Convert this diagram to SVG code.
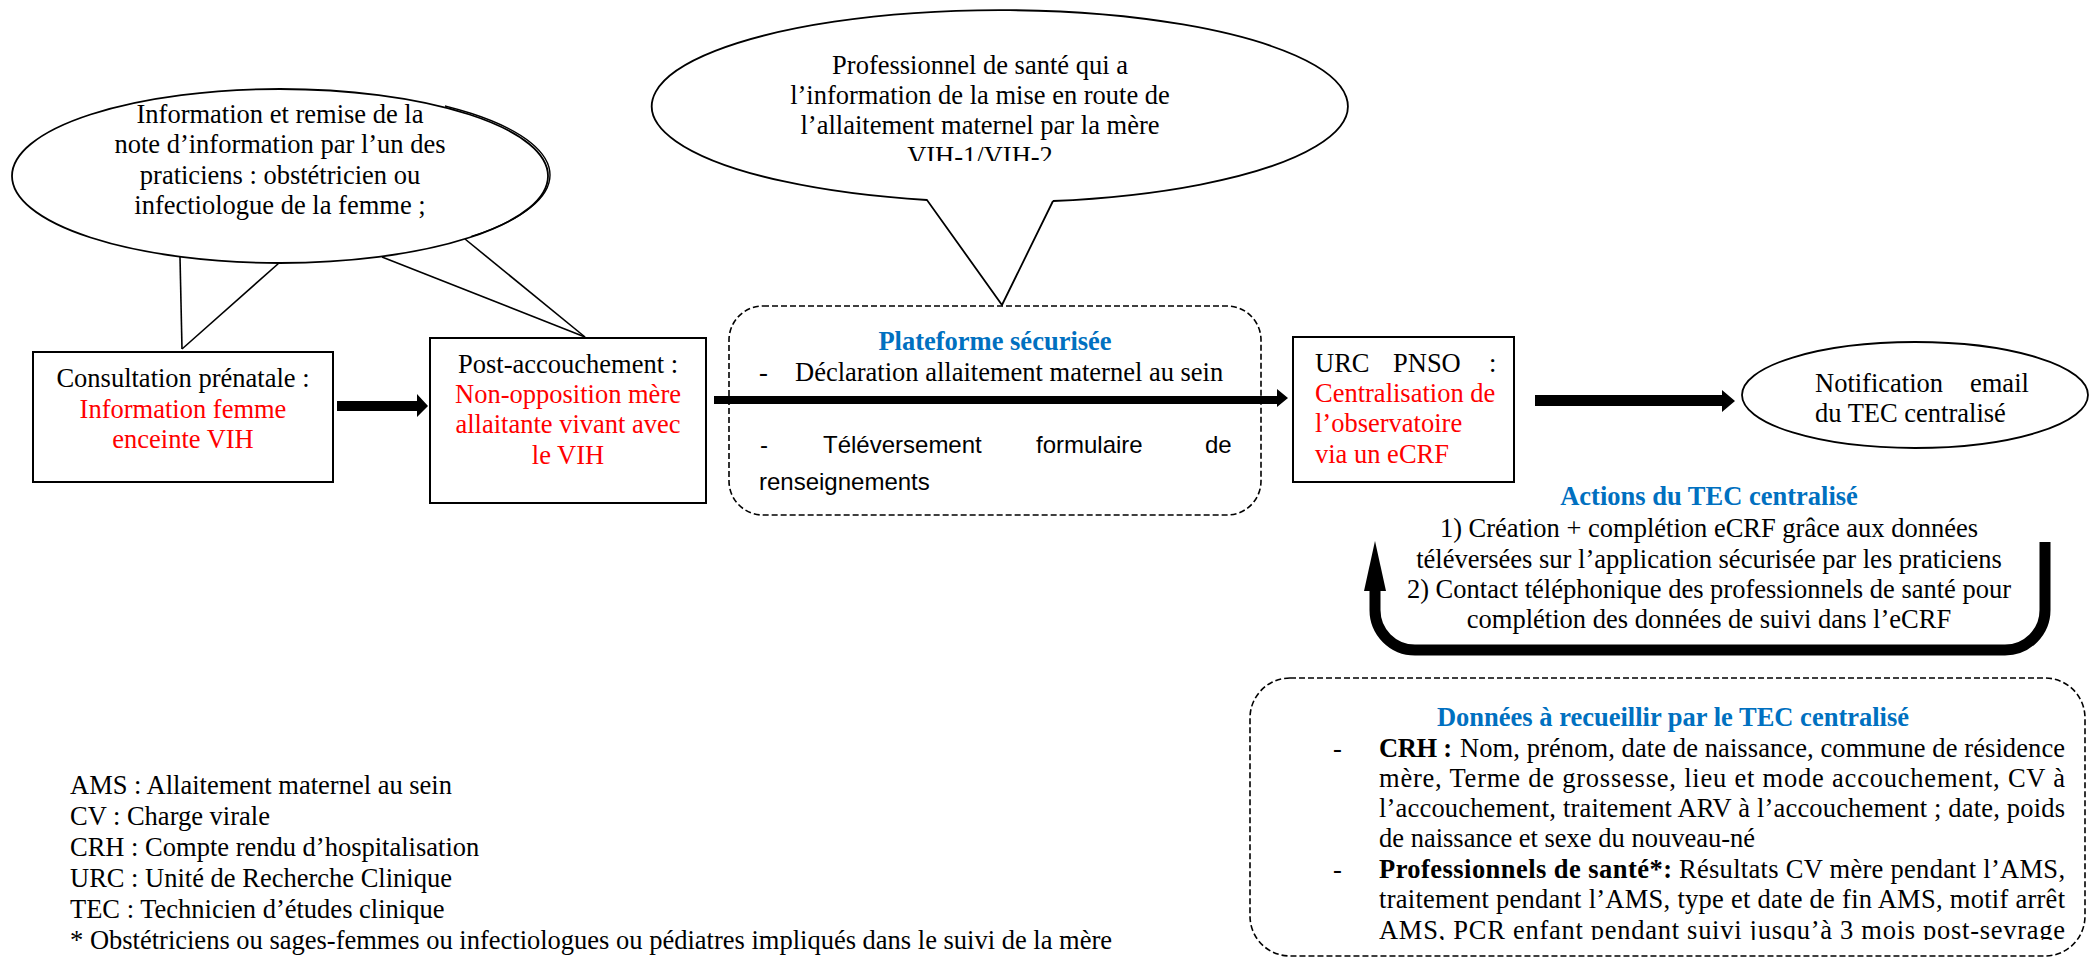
<svg xmlns="http://www.w3.org/2000/svg" width="2092" height="959" viewBox="0 0 2092 959">
<style>
.t{font-family:"Liberation Serif","Times New Roman",serif;font-size:26.5px;fill:#000}
.c{text-anchor:middle}
.red{fill:#ff0000}
.blue{fill:#0070c0;font-weight:bold}
.b{font-weight:bold}
.sans{font-family:"Liberation Sans",Arial,sans-serif;font-size:24px;fill:#000}
.box{fill:#fff;stroke:#000;stroke-width:2}
.dash{fill:none;stroke:#000;stroke-width:1.6;stroke-dasharray:6 3}
.line{fill:none;stroke:#000;stroke-width:1.6}
.blk{fill:#000;stroke:none}
</style>
<defs>
<clipPath id="clipE2"><rect x="600" y="0" width="800" height="161"/></clipPath>
<clipPath id="clipR"><rect x="445" y="80" width="120" height="156"/></clipPath>
<clipPath id="clipD2"><rect x="1240" y="670" width="852" height="270"/></clipPath>
</defs>
<rect width="2092" height="959" fill="#fff"/>

<g id="callout1">
<line class="line" x1="180" y1="257" x2="182" y2="349"/>
<line class="line" x1="182" y1="349" x2="279" y2="263"/>
<line class="line" x1="382" y1="257" x2="585" y2="337"/>
<line class="line" x1="465" y1="239" x2="585" y2="337"/>
<ellipse cx="280" cy="176" rx="268" ry="87" fill="#fff" stroke="#000" stroke-width="1.8"/>
<ellipse cx="282" cy="175" rx="268" ry="87" fill="none" stroke="#000" stroke-width="1.4" clip-path="url(#clipR)"/>
<text class="t c" x="280" y="123">Information et remise de la</text>
<text class="t c" x="280" y="153">note d’information par l’un des</text>
<text class="t c" x="280" y="184">praticiens : obstétricien ou</text>
<text class="t c" x="280" y="214">infectiologue de la femme ;</text>
</g>

<g id="callout2">
<path d="M 1053,201 L 1002,305 L 927,200 A 348 96 0 1 1 1053,201" fill="#fff" stroke="#000" stroke-width="1.8"/>
<g clip-path="url(#clipE2)">
<text class="t c" x="980" y="74">Professionnel de santé qui a</text>
<text class="t c" x="980" y="104">l’information de la mise en route de</text>
<text class="t c" x="980" y="134">l’allaitement maternel par la mère</text>
<text class="t c" x="980" y="165">VIH-1/VIH-2</text>
</g>
</g>

<g id="consultation">
<rect class="box" x="33" y="352" width="300" height="130"/>
<text class="t c" x="183" y="387">Consultation prénatale :</text>
<text class="t c red" x="183" y="418">Information femme</text>
<text class="t c red" x="183" y="448">enceinte VIH</text>
</g>

<g id="post-accouchement">
<rect class="box" x="430" y="338" width="276" height="165"/>
<text class="t c" x="568" y="373">Post-accouchement :</text>
<text class="t c red" x="568" y="403">Non-opposition mère</text>
<text class="t c red" x="568" y="433">allaitante vivant avec</text>
<text class="t c red" x="568" y="464">le VIH</text>
</g>

<g id="plateforme">
<rect class="dash" x="729" y="306" width="532" height="209" rx="34" ry="34"/>
<text class="t c blue" x="995" y="350">Plateforme sécurisée</text>
<text class="t" x="759" y="381">-</text>
<text class="t" x="795" y="381">Déclaration allaitement maternel au sein</text>
<text class="sans" x="760" y="453">-</text>
<text class="sans" x="823" y="453">Téléversement</text>
<text class="sans" x="1036" y="453">formulaire</text>
<text class="sans" x="1205" y="453">de</text>
<text class="sans" x="759" y="490">renseignements</text>
</g>

<g id="urc">
<rect class="box" x="1293" y="337" width="221" height="145"/>
<text class="t" x="1315" y="372">URC</text>
<text class="t" x="1393" y="372">PNSO</text>
<text class="t" x="1489" y="372">:</text>
<text class="t red" x="1315" y="402">Centralisation de</text>
<text class="t red" x="1315" y="432">l’observatoire</text>
<text class="t red" x="1315" y="463">via un eCRF</text>
</g>

<g id="notification">
<ellipse cx="1915" cy="395" rx="173" ry="53" fill="#fff" stroke="#000" stroke-width="1.8"/>
<text class="t" x="1815" y="392">Notification</text>
<text class="t" x="1970" y="392">email</text>
<text class="t" x="1815" y="422">du TEC centralisé</text>
</g>

<g id="actions">
<text class="t c blue" x="1709" y="505">Actions du TEC centralisé</text>
<text class="t c" x="1709" y="537">1) Création + complétion eCRF grâce aux données</text>
<text class="t c" x="1709" y="568">téléversées sur l’application sécurisée par les praticiens</text>
<text class="t c" x="1709" y="598">2) Contact téléphonique des professionnels de santé pour</text>
<text class="t c" x="1709" y="628">complétion des données de suivi dans l’eCRF</text>
</g>

<g id="donnees">
<rect class="dash" x="1250" y="678" width="835" height="278" rx="40" ry="40"/>
<text class="t c blue" x="1673" y="726">Données à recueillir par le TEC centralisé</text>
<text class="t" x="1333" y="757">-</text>
<text class="t b" x="1379" y="757" textLength="73" lengthAdjust="spacing">CRH :</text>
<text class="t" x="1460" y="757" textLength="605" lengthAdjust="spacing">Nom, prénom, date de naissance, commune de résidence</text>
<text class="t" x="1379" y="787" textLength="686" lengthAdjust="spacing">mère, Terme de grossesse, lieu et mode accouchement, CV à</text>
<text class="t" x="1379" y="817" textLength="686" lengthAdjust="spacing">l’accouchement, traitement ARV à l’accouchement ; date, poids</text>
<text class="t" x="1379" y="847">de naissance et sexe du nouveau-né</text>
<text class="t" x="1333" y="878">-</text>
<text class="t b" x="1379" y="878" textLength="293" lengthAdjust="spacing">Professionnels de santé*:</text>
<text class="t" x="1679" y="878" textLength="386" lengthAdjust="spacing">Résultats CV mère pendant l’AMS,</text>
<text class="t" x="1379" y="908" textLength="686" lengthAdjust="spacing">traitement pendant l’AMS, type et date de fin AMS, motif arrêt</text>
<g clip-path="url(#clipD2)">
<text class="t" x="1379" y="939" textLength="686" lengthAdjust="spacing">AMS, PCR enfant pendant suivi jusqu’à 3 mois post-sevrage</text>
</g>
</g>

<g id="legend">
<text class="t" x="70" y="794">AMS : Allaitement maternel au sein</text>
<text class="t" x="70" y="825">CV : Charge virale</text>
<text class="t" x="70" y="856">CRH : Compte rendu d’hospitalisation</text>
<text class="t" x="70" y="887">URC : Unité de Recherche Clinique</text>
<text class="t" x="70" y="918">TEC : Technicien d’études clinique</text>
<text class="t" x="70" y="949">* Obstétriciens ou sages-femmes ou infectiologues ou pédiatres impliqués dans le suivi de la mère</text>
</g>

<g id="connectors">
<polygon class="blk" points="337,401 417,401 417,394 428,406 417,417 417,411 337,411"/>
<polygon class="blk" points="714,396 1277,396 1277,389 1288,398 1277,407 1277,404 714,404"/>
<polygon class="blk" points="1535,395 1722,395 1722,390 1735,401 1722,412 1722,406 1535,406"/>
<path d="M 2045,542 V 610 A 40 40 0 0 1 2005,650 H 1415 A 40 40 0 0 1 1375,610 V 588" fill="none" stroke="#000" stroke-width="11"/>
<polygon class="blk" points="1375,541 1386,591 1364,591"/>
</g>
</svg>
